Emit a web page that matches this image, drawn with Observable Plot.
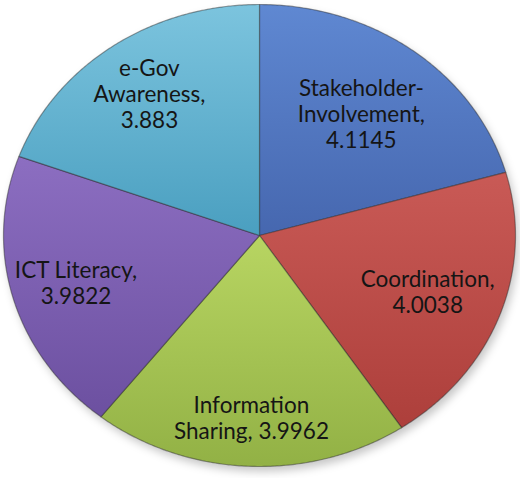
<!DOCTYPE html>
<html><head><meta charset="utf-8">
<script src="https://cdn.jsdelivr.net/npm/d3@7"></script>
<script src="https://cdn.jsdelivr.net/npm/@observablehq/plot@0.6"></script>
<style>
body{margin:0;background:#fff;}
#chart svg{display:block;background:#fff;}
</style></head><body><div id="chart"></div>
<script>
const categories = ["Stakeholder-Involvement", "Coordination", "Information Sharing", "ICT Literacy", "e-Gov Awareness"];
const values = [4.1145, 4.0038, 3.9962, 3.9822, 3.883];
const labelLines = ["Stakeholder-\nInvolvement,\n4.1145", "Coordination,\n4.0038", "Information\nSharing, 3.9962", "ICT Literacy,\n3.9822", "e-Gov\nAwareness,\n3.883"];
const colorsTop = ["#5f88d2", "#c95a56", "#b8d562", "#8c6ec1", "#7cc4de"];
const colorsBottom = ["#4667af", "#ad3f3b", "#92b145", "#6c50a0", "#4a9fc0"];
// label placement (fraction of radius along each slice's mid-angle)
const labelRadius = [0.66, 0.70, 0.79, 0.745, 0.75];

const data = categories.map((c, i) => ({category: c, value: values[i], label: labelLines[i]}));
const arcs = d3.pie().sort(null).value(d => d.value)(data);

const pts = [];
for (const a of arcs) {
  pts.push({category: a.data.category, x: 0, y: 0});
  const n = Math.ceil((a.endAngle - a.startAngle) / (Math.PI / 360));
  for (let k = 0; k <= n; k++) {
    const t = a.startAngle + (a.endAngle - a.startAngle) * k / n;
    pts.push({category: a.data.category, x: Math.sin(t), y: Math.cos(t)});
  }
}
const circle = d3.range(0, 360).map(d => ({x: Math.sin(d * Math.PI / 180), y: Math.cos(d * Math.PI / 180)}));
const labels = arcs.map((a, i) => {
  const m = (a.startAngle + a.endAngle) / 2;
  const r = labelRadius[i];
  return {x: r * Math.sin(m), y: r * Math.cos(m), label: a.data.label};
});

const chart = Plot.plot({
  width: 520, height: 478, margin: 0,
  x: {domain: [-1, 1], range: [3, 515], axis: null},
  y: {domain: [-1, 1], range: [466, 4], axis: null},
  color: {domain: categories, range: categories.map((c, i) => `url(#grad${i})`)},
  marks: [
    Plot.line(circle, {x: "x", y: "y", fill: "#000", fillOpacity: 0.22, stroke: "none", dx: 3, dy: 5, curve: "linear-closed"}),
    Plot.line(pts, {x: "x", y: "y", z: "category", fill: "category", stroke: "#2b2b2b", strokeOpacity: 0.45, strokeWidth: 1.2, curve: "linear-closed", strokeLinejoin: "round"}),
    Plot.text(labels, {x: "x", y: "y", text: "label", fontSize: 22.5, lineHeight: 1.16, fill: "#151515", fontFamily: "Lato"})
  ]
});

const defs = document.createElementNS("http://www.w3.org/2000/svg", "defs");
categories.forEach((c, i) => {
  const g = document.createElementNS("http://www.w3.org/2000/svg", "linearGradient");
  g.setAttribute("id", `grad${i}`);
  g.setAttribute("x1", "0"); g.setAttribute("y1", "0"); g.setAttribute("x2", "0"); g.setAttribute("y2", "1");
  [[0, colorsTop[i]], [1, colorsBottom[i]]].forEach(([o, col]) => {
    const s = document.createElementNS("http://www.w3.org/2000/svg", "stop");
    s.setAttribute("offset", o); s.setAttribute("stop-color", col);
    g.appendChild(s);
  });
  defs.appendChild(g);
});
chart.insertBefore(defs, chart.firstChild);
const lineGroups = chart.querySelectorAll('g[aria-label="line"]');
if (lineGroups.length) lineGroups[0].style.filter = "blur(4px)";
document.getElementById("chart").appendChild(chart);
</script>
</body></html>
